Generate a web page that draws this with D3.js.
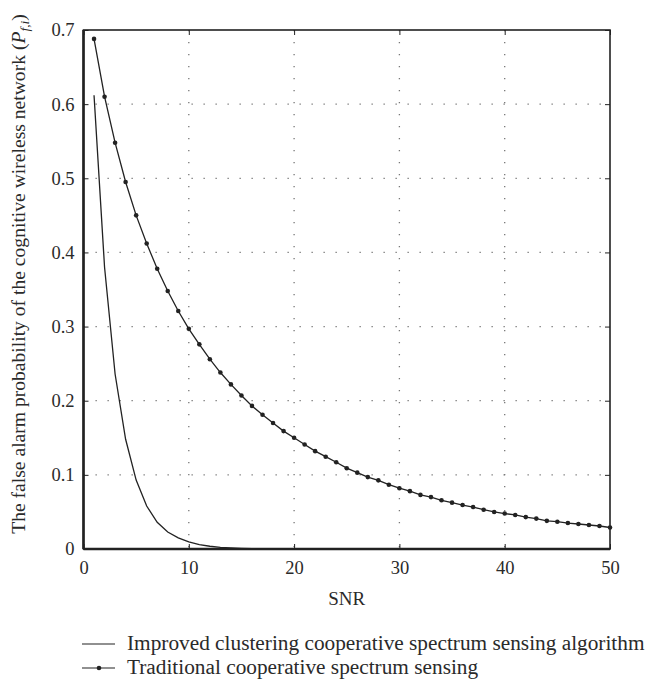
<!DOCTYPE html>
<html>
<head>
<meta charset="utf-8">
<script src="https://cdn.jsdelivr.net/npm/d3@7"></script>
<style>
  body { margin: 0; background: #fff; }
  svg text { font-family: "Liberation Serif", "DejaVu Serif", serif; fill: #2a2a2a; }
  .grid line { stroke: #777; stroke-dasharray: 1.3 10.7; stroke-width: 1.3; }
</style>
</head>
<body>
<svg id="chart" width="667" height="680"></svg>
<script>
// SNR values 1..50
const snr = [1,2,3,4,5,6,7,8,9,10,11,12,13,14,15,16,17,18,19,20,21,22,23,24,25,
             26,27,28,29,30,31,32,33,34,35,36,37,38,39,40,41,42,43,44,45,46,47,48,49,50];

// improved clustering cooperative spectrum sensing algorithm
const improved = [0.612,0.380,0.236,0.148,0.093,0.058,0.036,0.023,0.015,0.0095,
                  0.006,0.0037,0.0023,0.0015,0.0009,0.0006,0.0003,0.0002,0.0001,0,
                  0,0,0,0,0,0,0,0,0,0,0,0,0,0,0,0,0,0,0,0,0,0,0,0,0,0,0,0,0,0];

// traditional cooperative spectrum sensing
const traditional = [0.688,0.610,0.548,0.495,0.450,0.412,0.378,0.348,0.321,0.297,
                     0.276,0.256,0.238,0.222,0.207,0.193,0.181,0.170,0.159,0.150,
                     0.141,0.132,0.1245,0.117,0.109,0.103,0.097,0.0926,0.0867,0.082,
                     0.078,0.073,0.070,0.0657,0.0625,0.0593,0.0566,0.053,0.050,0.0478,
                     0.0459,0.043,0.041,0.038,0.0368,0.035,0.0337,0.0324,0.031,0.029];

const xTicks = [0,10,20,30,40,50];
const yTicks = [0,0.1,0.2,0.3,0.4,0.5,0.6,0.7];
const legendLabels = ["Improved clustering cooperative spectrum sensing algorithm",
                      "Traditional cooperative spectrum sensing"];

const svg = d3.select("#chart");
const margin = {top: 30, left: 83.5, right: 57, bottom: 131};
const W = 667, H = 680;
const x = d3.scaleLinear().domain([0, 50]).range([margin.left, W - margin.right]);
const y = d3.scaleLinear().domain([0, 0.7]).range([H - margin.bottom, margin.top]);
const ink = "#222";

// gridlines
svg.append("g").attr("class", "grid")
  .selectAll("line.v").data(xTicks.slice(1, -1)).join("line")
  .attr("x1", d => x(d)).attr("x2", d => x(d))
  .attr("y1", y(0.7)).attr("y2", y(0));
svg.append("g").attr("class", "grid")
  .selectAll("line.h").data(yTicks.slice(1, -1)).join("line")
  .attr("x1", x(0)).attr("x2", x(50))
  .attr("y1", d => y(d)).attr("y2", d => y(d));

// axes (ticks inward)
const fmtY = d => d === 0 ? "0" : d3.format(".1f")(d);
const xAxis = svg.append("g").attr("transform", `translate(0,${y(0)})`)
  .call(d3.axisBottom(x).tickValues(xTicks).tickSizeInner(-5).tickSizeOuter(0).tickPadding(12));
const yAxis = svg.append("g").attr("transform", `translate(${x(0)},0)`)
  .call(d3.axisLeft(y).tickValues(yTicks).tickFormat(fmtY).tickSizeInner(-5).tickSizeOuter(0).tickPadding(9));
const xTop = svg.append("g").attr("transform", `translate(0,${y(0.7)})`)
  .call(d3.axisTop(x).tickValues(xTicks).tickSizeInner(-5).tickSizeOuter(0).tickFormat(""));
const yRight = svg.append("g").attr("transform", `translate(${x(50)},0)`)
  .call(d3.axisRight(y).tickValues(yTicks).tickSizeInner(-5).tickSizeOuter(0).tickFormat(""));
[xAxis, yAxis, xTop, yRight].forEach(g => {
  g.select(".domain").remove();
  g.selectAll(".tick line").attr("stroke", ink).attr("stroke-width", 1);
  g.selectAll("text").attr("font-size", 18.5).attr("fill", "#2a2a2a")
    .attr("font-family", "Liberation Serif, serif");
});

// frame
svg.append("rect")
  .attr("x", x(0)).attr("y", y(0.7))
  .attr("width", x(50) - x(0)).attr("height", y(0) - y(0.7))
  .attr("fill", "none").attr("stroke", ink).attr("stroke-width", 1.6);
svg.append("line").attr("x1", x(0)).attr("x2", x(50)).attr("y1", y(0)).attr("y2", y(0))
  .attr("stroke", ink).attr("stroke-width", 2.6);
svg.append("line").attr("x1", x(0)).attr("x2", x(0)).attr("y1", y(0.7)).attr("y2", y(0))
  .attr("stroke", ink).attr("stroke-width", 2.6);

// lines
const line = d3.line().x((d, i) => x(snr[i])).y(d => y(d));
svg.append("path").datum(improved).attr("d", line)
  .attr("fill", "none").attr("stroke", ink).attr("stroke-width", 1.3);
svg.append("path").datum(traditional).attr("d", line)
  .attr("fill", "none").attr("stroke", ink).attr("stroke-width", 1.3);
svg.append("g").selectAll("circle").data(traditional).join("circle")
  .attr("cx", (d, i) => x(snr[i])).attr("cy", d => y(d)).attr("r", 2.3).attr("fill", ink);

// axis titles
svg.append("text").attr("x", (x(0) + x(50)) / 2).attr("y", 605)
  .attr("text-anchor", "middle").attr("font-size", 19).text("SNR");
const yl = svg.append("text").attr("transform", "translate(25,274) rotate(-90)")
  .attr("text-anchor", "middle").attr("font-size", 19.6);
yl.append("tspan").text("The false alarm probability of the cognitive wireless network (");
yl.append("tspan").attr("font-style", "italic").text("P");
yl.append("tspan").attr("font-style", "italic").attr("font-size", 13.5).attr("dy", 4).text("f,i");
yl.append("tspan").attr("dy", -4).text(")");

// legend
const leg = svg.append("g");
legendLabels.forEach((t, i) => {
  const ly = 644 + i * 24;
  leg.append("line").attr("x1", 82).attr("x2", 115).attr("y1", ly).attr("y2", ly)
    .attr("stroke", ink).attr("stroke-width", 1.2);
  if (i === 1) leg.append("circle").attr("cx", 99).attr("cy", ly).attr("r", 2.3).attr("fill", ink);
  leg.append("text").attr("x", 127).attr("y", ly + 6).attr("font-size", 21.3).text(t);
});
</script>
</body>
</html>
